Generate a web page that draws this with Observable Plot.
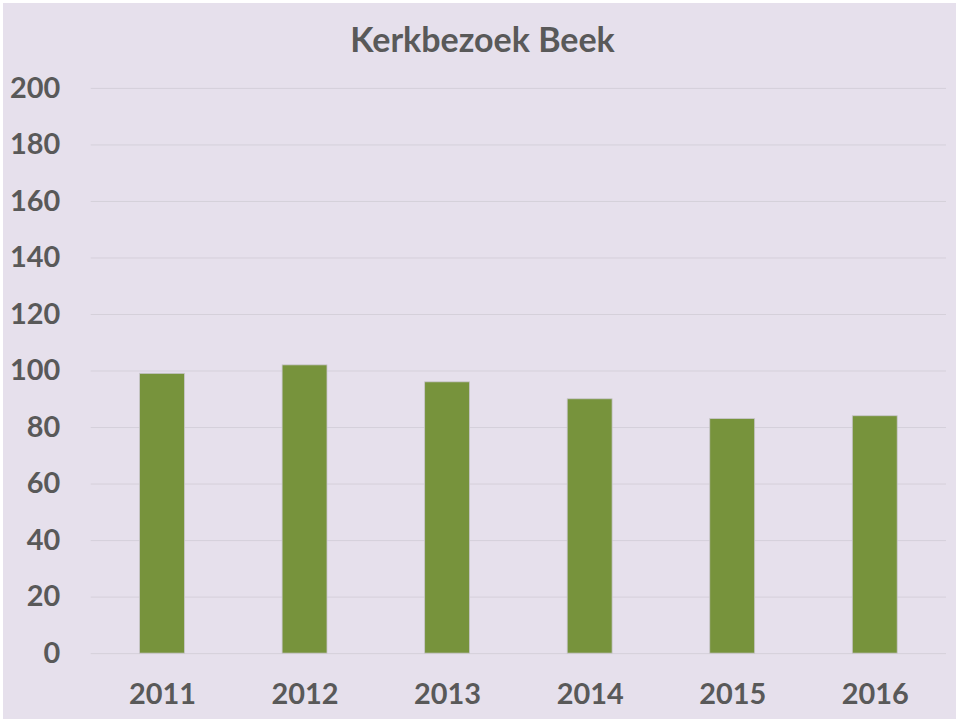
<!DOCTYPE html>
<html>
<head>
<meta charset="utf-8">
<script src="https://cdn.jsdelivr.net/npm/d3@7"></script>
<script src="https://cdn.jsdelivr.net/npm/@observablehq/plot@0.6"></script>
<style>
  html, body { margin: 0; padding: 0; background: #ffffff; }
  #wrap { position: absolute; left: 3px; top: 3px; width: 953px; height: 716px; background: #E6E0EC; overflow: hidden; }
  #title { position: absolute; left: 0; top: 0; width: 959px; height: 60px; margin-left: 0px; text-align: center;
           font-family: Lato, "Open Sans", sans-serif; font-weight: bold; font-size: 34px; color: #595959; line-height: 72px; }
  #chart { position: absolute; left: -3px; top: 57px; }
</style>
</head>
<body>
<div id="wrap">
  <div id="title">Kerkbezoek Beek</div>
  <div id="chart"></div>
</div>
<script>
const years = ["2011", "2012", "2013", "2014", "2015", "2016"];
const visitors = [99, 102, 96, 90, 83, 84];
const yTicks = [0, 20, 40, 60, 80, 100, 120, 140, 160, 180, 200];

const data = years.map((y, i) => ({year: y, value: visitors[i]}));

const chart = Plot.plot({
  width: 959,
  height: 662,
  marginLeft: 91,
  marginRight: 10,
  marginTop: 28,
  marginBottom: 67,
  style: {background: "transparent", fontFamily: "Lato, 'Open Sans', sans-serif", fontWeight: "bold", fontSize: "29px", color: "#595959"},
  x: {domain: years, paddingInner: 0.685, paddingOuter: 0.3425, round: false, label: null},
  y: {domain: [0, 200], ticks: yTicks, label: null},
  marks: [
    Plot.gridY(yTicks, {stroke: "#D5D0DA", strokeOpacity: 1, strokeWidth: 1}),
    Plot.barY(data, {x: "year", y: "value", fill: "#77933C", stroke: "#C9C6CC", strokeWidth: 0.8}),
    Plot.axisY(yTicks, {tickSize: 0, tickPadding: 31, fill: "#595959", fontWeight: "bold", fontSize: 29}),
    Plot.axisX({tickSize: 0, tickPadding: 30, fill: "#595959", fontWeight: "bold", fontSize: 29})
  ]
});
document.getElementById("chart").appendChild(chart);
</script>
</body>
</html>
